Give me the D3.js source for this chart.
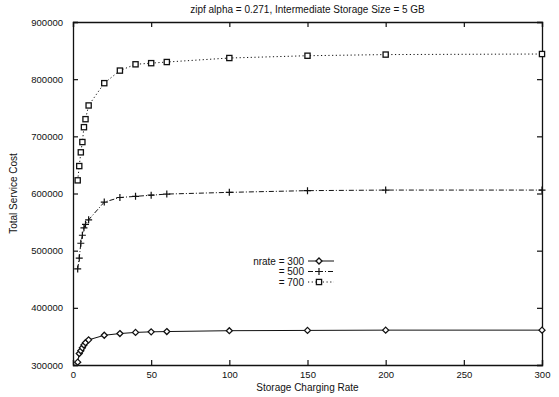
<!DOCTYPE html>
<html>
<head>
<meta charset="utf-8">
<script src="https://cdn.jsdelivr.net/npm/d3@7"></script>
<style>
  body { margin: 0; background: #fff; }
  text { font-family: "Liberation Sans", Arial, sans-serif; fill: #111; }
</style>
</head>
<body>
<div class="canvas"></div>
<script>
var rates = [3, 4, 5, 6, 7, 8, 10, 20, 30, 40, 50, 60, 100, 150, 200, 300];
var cost300 = [305000, 320000, 325000, 330000, 335000, 339000, 344000, 352000, 355000, 357000, 358000, 358500, 360000, 360500, 361000, 361000];
var cost500 = [468000, 487000, 513000, 527000, 540000, 546000, 554000, 585000, 593000, 595000, 597000, 599000, 602000, 605000, 606000, 606000];
var cost700 = [623000, 648000, 672000, 690000, 716000, 730000, 754000, 793000, 815000, 826000, 828000, 830000, 837000, 841000, 843000, 844000];
var xTicks = [0, 50, 100, 150, 200, 250, 300];
var yTicks = [300000, 400000, 500000, 600000, 700000, 800000, 900000];
var legendLabels = ["nrate = 300", "= 500", "= 700"];

(function chart() {
  var W = 559, H = 397;
  var margin = {top: 22, right: 17, bottom: 32, left: 73};
  var width = W - margin.left - margin.right;
  var height = H - margin.top - margin.bottom;

  var svg = d3.select(".canvas").append("svg")
    .attr("width", W).attr("height", H);

  var g = svg.append("g")
    .attr("transform", "translate(" + margin.left + "," + margin.top + ")");

  var x = d3.scaleLinear().domain([0, 300]).range([0, width]);
  var y = d3.scaleLinear().domain([300000, 900000]).range([height, 0]);

  // gnuplot-like frame with inward ticks on all four sides
  g.append("g").attr("transform", "translate(0," + height + ")")
    .call(d3.axisBottom(x).tickValues(xTicks).tickSize(-5).tickPadding(6));
  g.append("g")
    .call(d3.axisTop(x).tickValues(xTicks).tickSize(-5).tickFormat(""));
  g.append("g")
    .call(d3.axisLeft(y).tickValues(yTicks).tickSize(-5).tickPadding(10).tickFormat(d3.format("d")));
  g.append("g").attr("transform", "translate(" + width + ",0)")
    .call(d3.axisRight(y).tickValues(yTicks).tickSize(-5).tickFormat(""));
  g.selectAll(".domain").attr("stroke", "#111").attr("stroke-width", 1.3);
  g.selectAll(".tick line").attr("stroke", "#111").attr("stroke-width", 1.2);
  g.selectAll(".tick text").attr("font-size", 9.5).attr("fill", "#111")
    .attr("font-family", "'Liberation Sans', Arial, sans-serif");

  var series = [
    {vals: cost300, dash: null, marker: "diamond"},
    {vals: cost500, dash: "5,2,1,2", marker: "plus"},
    {vals: cost700, dash: "1.2,2.5", marker: "square"}
  ];

  var line = d3.line()
    .x(function(d) { return x(d[0]); })
    .y(function(d) { return y(d[1]); });

  function drawMarker(sel, type, px, py) {
    if (type === "diamond") {
      sel.append("path")
        .attr("d", "M" + px + "," + (py - 3) + "L" + (px + 3) + "," + py + "L" + px + "," + (py + 3) + "L" + (px - 3) + "," + py + "Z")
        .attr("fill", "#fff").attr("stroke", "#111").attr("stroke-width", 1.3);
    } else if (type === "plus") {
      sel.append("path")
        .attr("d", "M" + (px - 3.5) + "," + py + "H" + (px + 3.5) + "M" + px + "," + (py - 3.5) + "V" + (py + 3.5))
        .attr("stroke", "#111").attr("stroke-width", 1.2);
    } else {
      sel.append("rect")
        .attr("x", px - 2.6).attr("y", py - 2.6).attr("width", 5.2).attr("height", 5.2)
        .attr("fill", "#fff").attr("stroke", "#111").attr("stroke-width", 1.3);
    }
  }

  series.forEach(function(s) {
    var pts = rates.map(function(r, i) { return [r, s.vals[i]]; });
    g.append("path").datum(pts)
      .attr("d", line)
      .attr("fill", "none")
      .attr("stroke", "#111")
      .attr("stroke-width", 1)
      .attr("stroke-dasharray", s.dash);
    var mg = g.append("g");
    pts.forEach(function(p) { drawMarker(mg, s.marker, x(p[0]), y(p[1])); });
  });

  // legend
  var lx = 231, ly = 239;
  series.forEach(function(s, i) {
    var yy = ly + i * 10.5;
    g.append("text").attr("x", lx).attr("y", yy + 3.5)
      .attr("text-anchor", "end").attr("font-size", 10)
      .text(legendLabels[i]);
    g.append("line")
      .attr("x1", lx + 4).attr("x2", lx + 30).attr("y1", yy).attr("y2", yy)
      .attr("stroke", "#111").attr("stroke-width", 1)
      .attr("stroke-dasharray", s.dash);
    drawMarker(g, s.marker, lx + 15, yy);
  });

  svg.append("text").attr("x", margin.left + width / 2).attr("y", 13)
    .attr("text-anchor", "middle").attr("font-size", 10)
    .text("zipf alpha = 0.271, Intermediate Storage Size = 5 GB");
  svg.append("text").attr("x", margin.left + width / 2).attr("y", 391)
    .attr("text-anchor", "middle").attr("font-size", 10)
    .text("Storage Charging Rate");
  svg.append("text")
    .attr("transform", "translate(17," + (margin.top + height / 2) + ") rotate(-90)")
    .attr("text-anchor", "middle").attr("font-size", 10)
    .text("Total Service Cost");
})();
</script>
</body>
</html>
